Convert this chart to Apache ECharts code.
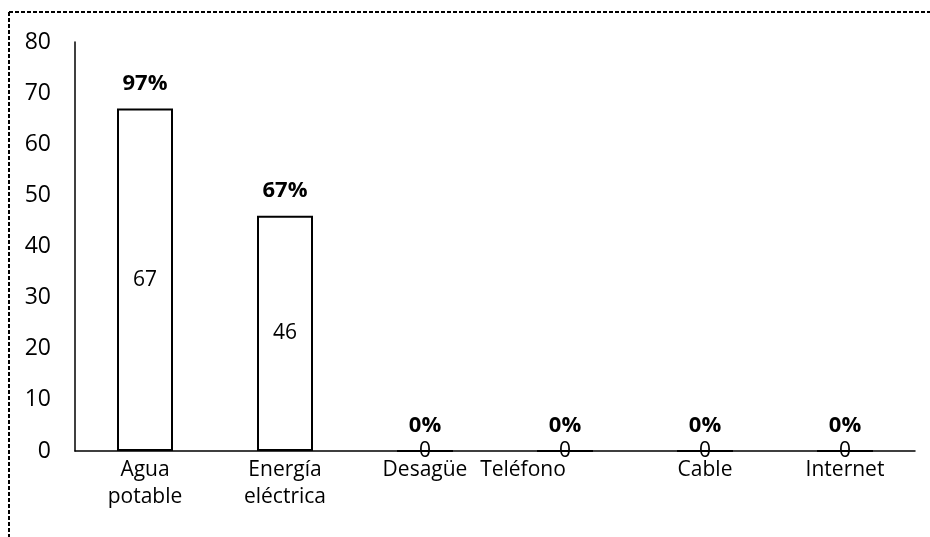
<!DOCTYPE html>
<html>
<head>
<meta charset="utf-8">
<script src="https://cdn.jsdelivr.net/npm/echarts@6/dist/echarts.min.js"></script>
<style>
  html, body { margin: 0; padding: 0; background: #fff; }
  #main { width: 930px; height: 537px; }
</style>
</head>
<body>
<div id="main"></div>
<script>
'use strict'

// categories and values
const categories = ['Agua\npotable', 'Energía\neléctrica', 'Desagüe', 'Teléfono', 'Cable', 'Internet'];
const counts = [67, 46, 0, 0, 0, 0];
const percents = ['97%', '67%', '0%', '0%', '0%', '0%'];
const yTicks = { min: 0, max: 80, interval: 10 };

var myChart = echarts.init(document.getElementById('main'));

const font = '"Open Sans", "Liberation Sans", sans-serif';

var option = {
  animation: false,
  grid: { left: 75, right: 15, top: 42, bottom: 86 },
  xAxis: {
    type: 'category',
    data: categories,
    axisLine: { lineStyle: { color: '#000', width: 1.5 } },
    axisTick: { show: false },
    axisLabel: {
      color: '#000',
      fontFamily: font,
      fontSize: 21,
      lineHeight: 27,
      margin: 6,
      interval: 0,
      // Teléfono sits next to Desagüe in the original
      formatter: function (v) {
        return v === 'Teléfono' ? '{shift|' + v + '}' : v;
      },
      rich: {
        shift: { padding: [0, 84, 0, 0], fontSize: 21, fontFamily: font, color: '#000' }
      }
    }
  },
  yAxis: {
    type: 'value',
    min: yTicks.min,
    max: yTicks.max,
    interval: yTicks.interval,
    axisLine: { show: true, lineStyle: { color: '#000', width: 1.5 } },
    axisTick: { show: false },
    splitLine: { show: false },
    axisLabel: { color: '#000', fontFamily: font, fontSize: 23, margin: 24 }
  },
  series: [
    {
      type: 'bar',
      data: counts,
      barWidth: '40%',
      itemStyle: { color: '#fff', borderColor: '#000', borderWidth: 2 },
      label: {
        show: true,
        position: 'inside',
        color: '#000',
        fontFamily: font,
        fontSize: 21
      }
    },
    {
      // percent labels above the bars
      type: 'bar',
      data: counts,
      barWidth: '40%',
      barGap: '-100%',
      silent: true,
      itemStyle: { color: 'transparent' },
      label: {
        show: true,
        position: 'top',
        distance: 14,
        color: '#000',
        fontFamily: font,
        fontWeight: 'bold',
        fontSize: 22,
        formatter: function (p) { return percents[p.dataIndex]; }
      }
    }
  ],
  graphic: [
    {
      type: 'line',
      shape: { x1: 9, y1: 12, x2: 930, y2: 12 },
      style: { stroke: '#000', lineWidth: 2, lineDash: [4, 2] }
    },
    {
      type: 'line',
      shape: { x1: 9, y1: 12, x2: 9, y2: 537 },
      style: { stroke: '#000', lineWidth: 2, lineDash: [4, 2] }
    }
  ]
};

myChart.setOption(option);
</script>
</body>
</html>
